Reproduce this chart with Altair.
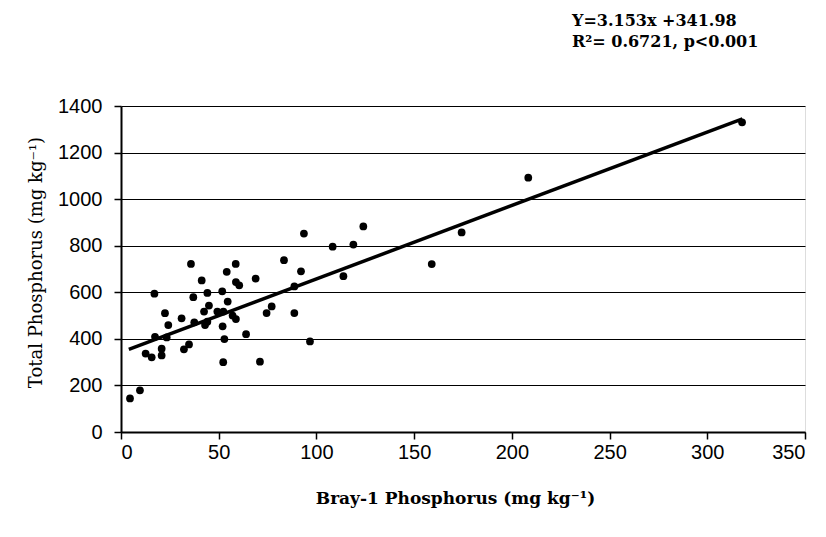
import altair as alt
import pandas as pd

bray = [4.6, 9.7, 12.6, 15.7, 17.1, 17.4, 20.8, 20.8, 22.5, 23.4, 24.2, 31.0, 32.2, 34.8,
        35.8, 37.0, 37.5, 41.3, 42.5, 43.0, 44.2, 44.2, 45.0, 49.3, 51.8, 52.0, 52.3, 52.9,
        54.1, 54.6, 52.4, 58.7, 58.8, 60.5, 58.8, 57.1, 64.0, 68.9, 71.1, 74.5, 77.1, 83.4,
        88.7, 88.7, 92.1, 93.6, 96.7, 108.3, 113.8, 118.9, 124.0, 159.0, 174.3, 208.4, 317.8]
total = [144, 179, 337, 321, 594, 409, 358, 329, 510, 406, 459, 488, 355, 376, 722, 579,
         471, 651, 517, 459, 474, 597, 543, 517, 604, 454, 300, 399, 688, 560, 517, 722,
         644, 630, 485, 500, 420, 659, 302, 511, 539, 738, 511, 625, 690, 852, 389, 796,
         669, 805, 883, 721, 857, 1092, 1330]

fit_x = [4, 318]
fit_y = [354.6, 1344.6]

x_ticks = [0, 50, 100, 150, 200, 250, 300, 350]
y_ticks = [0, 200, 400, 600, 800, 1000, 1200, 1400]

eq_line1 = "Y=3.153x +341.98"
eq_line2 = "R²= 0.6721, p<0.001"

pts = pd.DataFrame({"bray": bray, "total": total})
fit = pd.DataFrame({"bray": fit_x, "total": fit_y})
one = pd.DataFrame({"k": [0]})

xscale = alt.Scale(domain=[0, 350], nice=False)
yscale = alt.Scale(domain=[0, 1400], nice=False)

xaxis = alt.Axis(values=x_ticks, format="d", title="Bray-1 Phosphorus (mg kg⁻¹)", grid=False,
                 domainColor="black", domainWidth=2, tickColor="black", tickSize=7,
                 tickWidth=1.5, labelFont="Liberation Sans", labelFontSize=20,
                 labelColor="black", labelPadding=3, titleFont="DejaVu Serif",
                 titleFontSize=17, titleFontWeight="bold", titleColor="black",
                 titlePadding=28, titleX=334)
yaxis = alt.Axis(values=y_ticks, format="d", title="Total Phosphorus (mg kg⁻¹)", grid=True,
                 gridColor="black", gridWidth=1, gridOpacity=1,
                 domainColor="black", domainWidth=2, tickColor="black", tickSize=7,
                 tickWidth=1.5, labelFont="Liberation Sans", labelFontSize=20,
                 labelColor="black", labelPadding=12, titleFont="DejaVu Serif",
                 titleFontSize=18, titleFontWeight="normal", titleColor="black",
                 titlePadding=12, titleY=156)

points = alt.Chart(pts).mark_circle(size=60, color="black", opacity=1).encode(
    x=alt.X("bray:Q", scale=xscale, axis=xaxis),
    y=alt.Y("total:Q", scale=yscale, axis=yaxis),
)

line = alt.Chart(fit).mark_line(color="black", strokeWidth=3.5).encode(
    x=alt.X("bray:Q", scale=xscale),
    y=alt.Y("total:Q", scale=yscale),
)

text_style = dict(align="left", baseline="alphabetic", font="DejaVu Serif", fontSize=16,
                  fontWeight="bold", color="black")
t1 = alt.Chart(one).mark_text(**text_style, text=eq_line1).encode(
    x=alt.value(451), y=alt.value(-80))
t2 = alt.Chart(one).mark_text(**text_style, text=eq_line2).encode(
    x=alt.value(451), y=alt.value(-59))

chart = alt.layer(points, line, t1, t2).properties(
    width=684, height=326,
    padding={"left": 113, "top": 98, "right": 13, "bottom": 97},
    autosize=alt.AutoSizeParams(type="none"),
).configure_view(stroke="black", strokeWidth=2).configure(background="white")

chart.save("out.html", embed_options={"renderer": "svg", "actions": False})
